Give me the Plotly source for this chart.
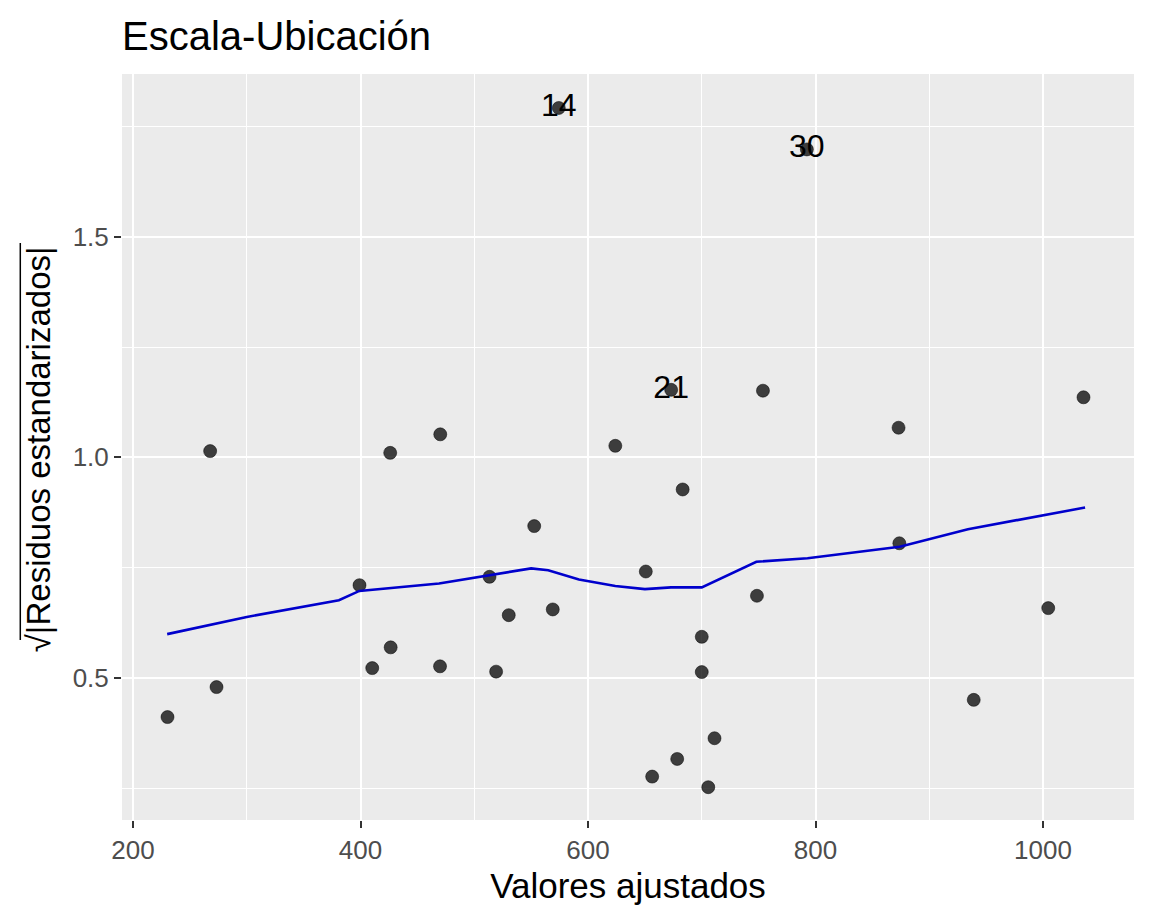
import plotly.graph_objects as go

# Fitted values vs sqrt(|standardized residuals|)
fitted = [230.3, 267.8, 273.4, 399.1, 410.3, 426.5, 426.1, 470.1, 469.9, 513.4,
          519.2, 530.3, 552.7, 569.0, 574.3, 624.0, 650.8, 656.4, 673.1, 678.4,
          683.2, 700.0, 700.0, 705.7, 711.2, 748.5, 753.8, 792.4, 873.0, 873.7,
          939.1, 1004.6, 1035.6]
sqrt_resid = [0.411, 1.014, 0.479, 0.710, 0.522, 0.569, 1.010, 1.052, 0.526, 0.729,
              0.514, 0.642, 0.844, 0.655, 1.792, 1.026, 0.741, 0.276, 1.153, 0.316,
              0.927, 0.593, 0.513, 0.252, 0.363, 0.686, 1.151, 1.698, 1.067, 0.805,
              0.450, 0.658, 1.136]

# smoother (loess) path
smooth_x = [230, 300, 381, 399, 469, 513, 550, 565, 592, 624, 650, 673, 700,
            748, 793, 874, 934, 1037]
smooth_y = [0.599, 0.638, 0.676, 0.697, 0.714, 0.733, 0.748, 0.744, 0.723, 0.708,
            0.701, 0.705, 0.705, 0.763, 0.771, 0.797, 0.837, 0.886]

# labelled observations
label_ids = ['14', '21', '30']
label_x = [574.3, 673.1, 792.4]
label_y = [1.792, 1.153, 1.698]

fig = go.Figure()

fig.add_trace(go.Scatter(
    x=fitted, y=sqrt_resid, mode='markers',
    marker=dict(size=13, color='rgba(0,0,0,0.74)',
                line=dict(width=1, color='rgba(0,0,0,0.5)')),
    hoverinfo='x+y'))

fig.add_trace(go.Scatter(
    x=smooth_x, y=smooth_y, mode='lines',
    line=dict(color='#0000CC', width=2.6)))

fig.add_trace(go.Scatter(
    x=label_x, y=label_y, mode='text', text=label_ids,
    textposition='middle center',
    textfont=dict(family='Liberation Sans', size=32, color='black')))

axis_common = dict(
    showline=False, zeroline=False,
    gridcolor='white', gridwidth=2.4,
    ticks='outside', ticklen=7, tickwidth=2, tickcolor='#333333',
    tickfont=dict(family='Liberation Sans', size=26, color='#4D4D4D'),
)

fig.update_xaxes(
    range=[190.3, 1080], tick0=0, dtick=200,
    minor=dict(showgrid=True, gridcolor='white', gridwidth=1.2, dtick=100, tick0=0),
    title=dict(text='Valores ajustados', standoff=9,
               font=dict(family='Liberation Sans', size=35, color='black')),
    **axis_common)

fig.update_yaxes(
    range=[0.1776, 1.869], tick0=0, dtick=0.5, tickformat='.1f',
    minor=dict(showgrid=True, gridcolor='white', gridwidth=1.2, dtick=0.25, tick0=0),
    **axis_common)

# page body has an 8px margin, so the figure is 8px smaller than the window
fig.update_layout(
    width=1144, height=914,
    margin=dict(l=114, r=18, t=66, b=102),
    paper_bgcolor='white', plot_bgcolor='#EBEBEB',
    showlegend=False,
    title=dict(text='Escala-Ubicación', x=0, xref='paper', xanchor='left',
               y=1 - 28 / 914, yref='container', yanchor='middle',
               font=dict(family='Liberation Sans', size=40, color='black')),
)

# y-axis title drawn as rotated annotation with radical overline
fig.add_annotation(
    text='√|Residuos estandarizados|', textangle=-90,
    x=-0.083, y=0.497, xref='paper', yref='paper',
    xanchor='center', yanchor='middle', showarrow=False,
    font=dict(family='Liberation Sans', size=33, color='black'))
fig.add_shape(type='line', xref='paper', yref='paper',
              x0=-0.1005, x1=-0.1005, y0=0.2413, y1=0.7735,
              line=dict(color='black', width=1.5))

fig.write_html('out.html')
